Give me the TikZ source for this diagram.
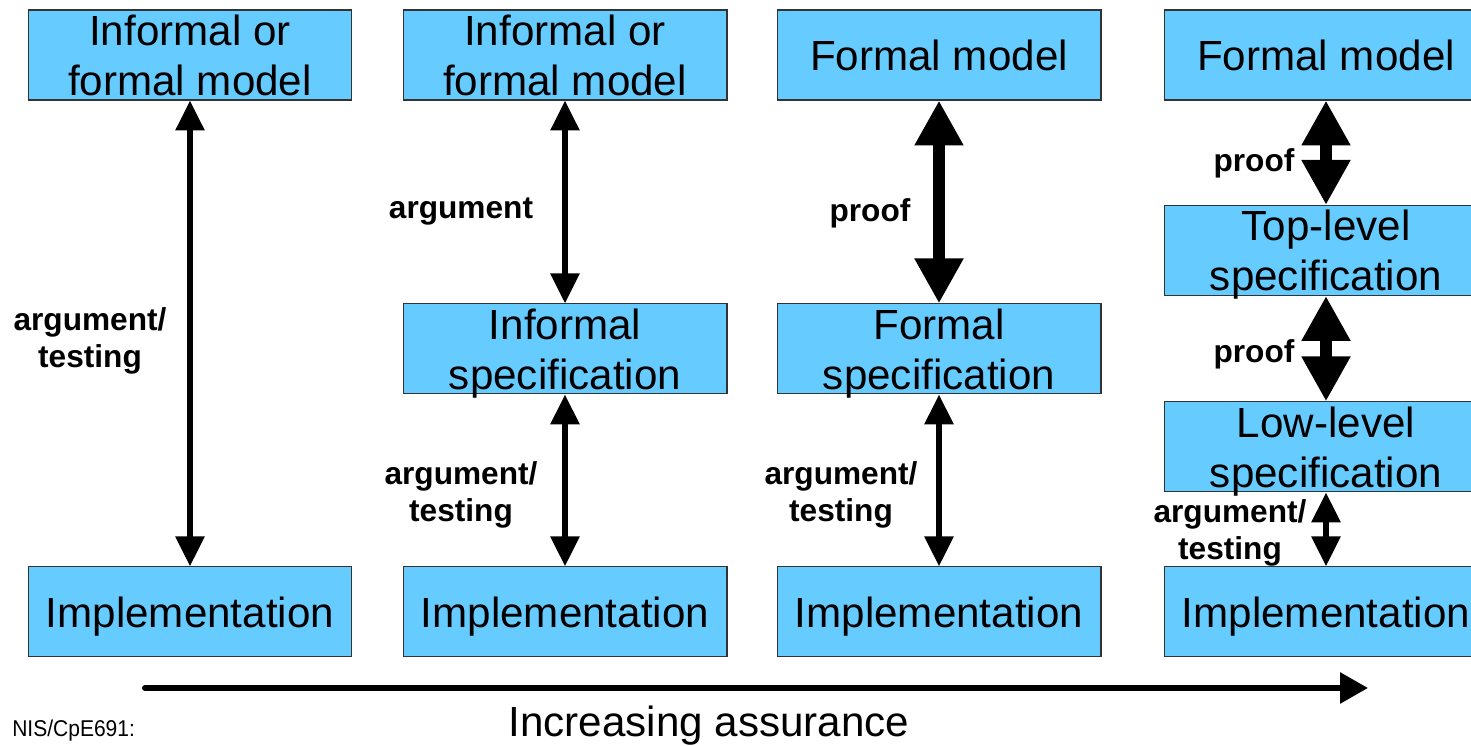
\documentclass[tikz,border=0pt]{standalone}
\usepackage{fontspec}
\setmainfont{Liberation Sans}
\usetikzlibrary{arrows.meta}
\definecolor{boxblue}{RGB}{102,204,255}

\begin{document}
\begin{tikzpicture}[
        x=0.02cm, y=0.02cm,
        box/.style={rectangle, draw=black!80, line width=0.6pt, fill=boxblue, minimum width=6.48cm, minimum height=1.8cm, inner sep=0pt, align=center, text depth=0pt, font=\fontsize{24}{28.6}\selectfont},
        lbl/.style={align=center, inner sep=0pt, font=\fontsize{18}{21.5}\selectfont\bfseries},
        arrow/.style={<->, >={Triangle[width=0.56cm,length=0.6cm]}, line width=0.12cm},
        proofarrow/.style={<->, >={Triangle[width=0.92cm,length=0.9cm]}, line width=0.24cm},
        flow/.style={-{Triangle[width=0.6cm,length=0.56cm]}, line width=0.12cm, line cap=round}
    ]
        \useasboundingbox (0,0) rectangle (1471,746);

        % first column
        \node[box] (model1) at (190,691) {Informal or\\formal model};
        \node[box, below of=model1, node distance=11.14cm] (impl1) {Implementation};
        \draw[arrow] (model1) -- (impl1);
        \node[lbl] (test1) at (90,405) {argument/\\testing};

        % second column
        \node[box] (model2) at (565,691) {Informal or\\formal model};
        \node[box, below of=model2, node distance=5.88cm] (spec2) {Informal\\specification};
        \node[box, below of=spec2, node distance=5.26cm] (impl2) {Implementation};
        \draw[arrow] (model2) -- (spec2);
        \draw[arrow] (spec2) -- (impl2);
        \node[lbl] (arg2) at (461,534) {argument};
        \node[lbl] (test2) at (461,251) {argument/\\testing};

        % third column
        \node[box] (model3) at (939,691) {Formal model};
        \node[box, below of=model3, node distance=5.88cm] (spec3) {Formal\\specification};
        \node[box, below of=spec3, node distance=5.26cm] (impl3) {Implementation};
        \draw[proofarrow] (model3) -- (spec3);
        \draw[arrow] (spec3) -- (impl3);
        \node[lbl] (proof3) at (870,533) {proof};
        \node[lbl] (test3) at (841,251) {argument/\\testing};

        % fourth column
        \node[box] (model4) at (1326,691) {Formal model};
        \node[box, below of=model4, node distance=3.91cm] (top4) {Top-level\\specification};
        \node[box, below of=top4, node distance=3.93cm] (low4) {Low-level\\specification};
        \node[box, below of=low4, node distance=3.3cm] (impl4) {Implementation};
        \draw[proofarrow] (model4) -- (top4);
        \draw[proofarrow] (top4) -- (low4);
        \draw[arrow] (low4) -- (impl4);
        \node[lbl] (proof4a) at (1254,583) {proof};
        \node[lbl] (proof4b) at (1254,392) {proof};
        \node[lbl] (test4) at (1230,213) {argument/\\testing};

        % assurance axis
        \coordinate (low) at (145,58);
        \coordinate (high) at (1368,58);
        \draw[flow] (low) -- (high);
        \node[font=\fontsize{24}{27.3}\selectfont, inner sep=0pt] (assurance) at (709,20) {Increasing assurance};
        \node[font=\fontsize{13}{15}\selectfont, inner sep=0pt, anchor=west, xscale=0.92] (course) at (12,15) {NIS/CpE691:};
    \end{tikzpicture}
\end{document}
